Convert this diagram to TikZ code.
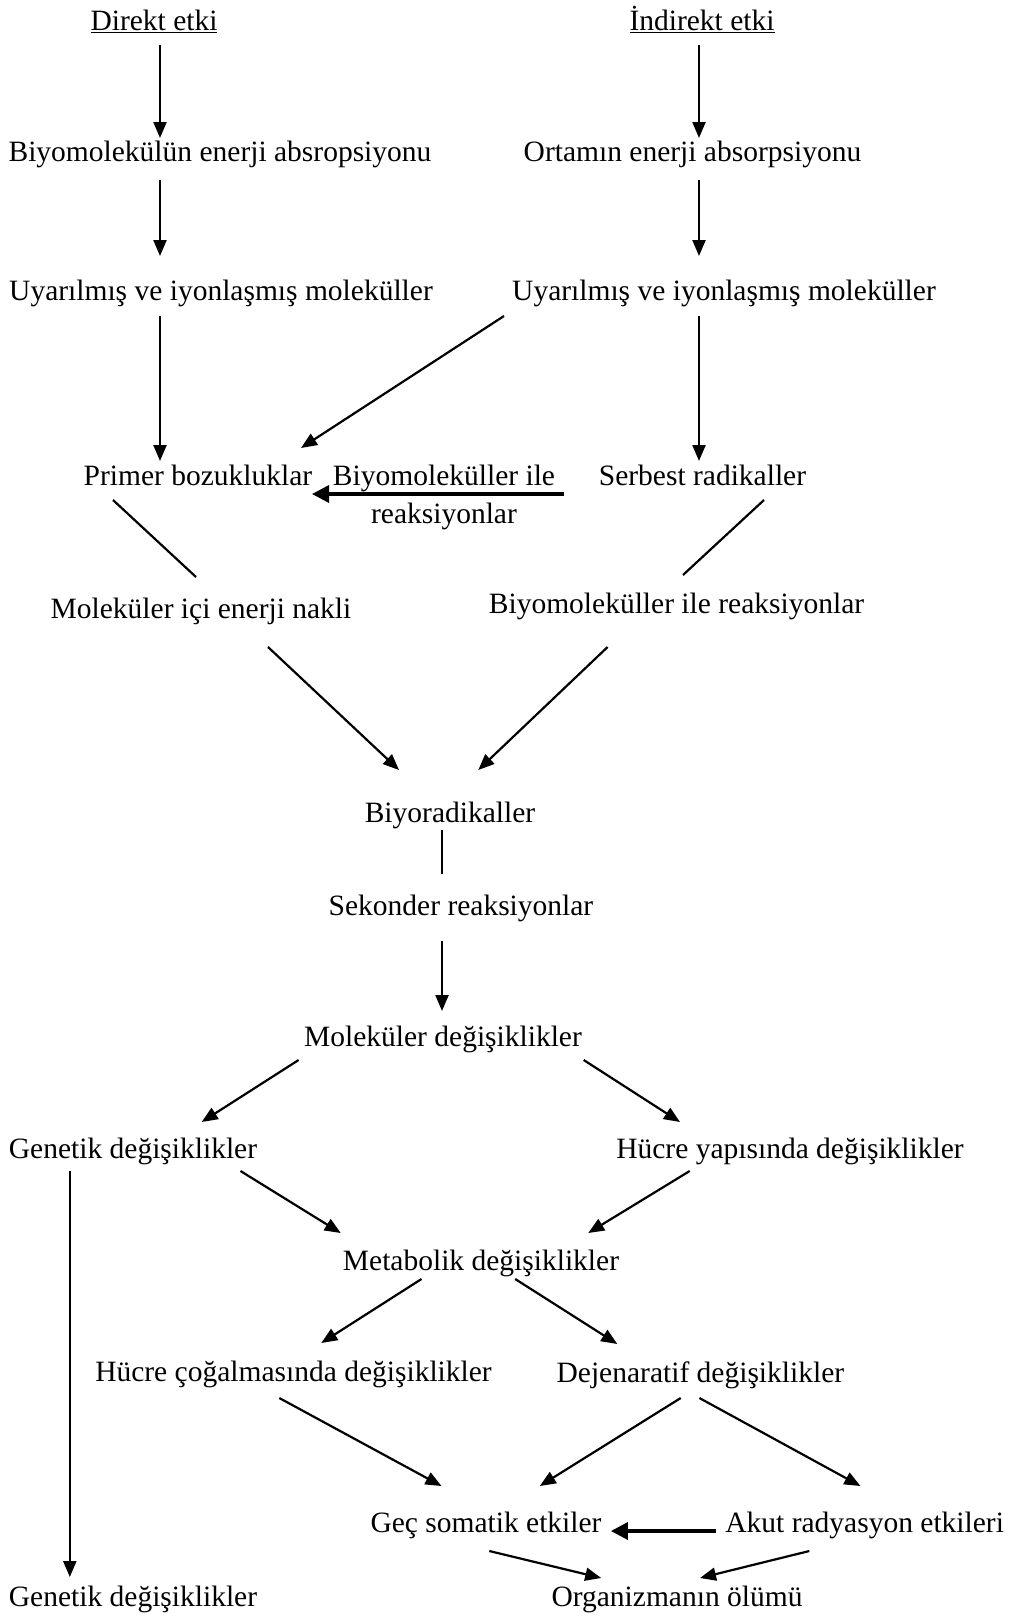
\documentclass[tikz,border=0pt]{standalone}
\usepackage{fontspec}
\setmainfont{Liberation Serif}
\usetikzlibrary{arrows.meta}

\tikzset{
  lbl/.style={anchor=base, inner sep=0pt, font=\fontsize{29.5}{38}\selectfont},
  arr/.style={line width=2.2pt, -{Triangle[length=16pt,width=13pt]}},
  bar/.style={line width=2.2pt},
  heavyarr/.style={line width=3.5pt, -{Triangle[length=17pt,width=17pt]}},
}

\begin{document}
\begin{tikzpicture}[x=1pt,y=-1pt]
\useasboundingbox (0,0) rectangle (1014,1620);

% labels, placed by their (last) baselines
\node[lbl] (direkt)    at (154,30.7)    {\underline{Direkt etki}};
\node[lbl] (indirekt)  at (702,30.7)    {\underline{İndirekt etki}};
\node[lbl] (bioabs)    at (220,161.7)   {Biyomolekülün enerji absropsiyonu};
\node[lbl] (ortam)     at (692.5,161.7) {Ortamın enerji absorpsiyonu};
\node[lbl] (uyarL)     at (221,300)     {Uyarılmış ve iyonlaşmış moleküller};
\node[lbl] (uyarR)     at (724,300)     {Uyarılmış ve iyonlaşmış moleküller};
\node[lbl] (primer)    at (198,485)     {Primer bozukluklar};
\node[lbl, align=center] (bioile) at (444,523) {Biyomoleküller ile\\reaksiyonlar};
\node[lbl] (serbest)   at (702.5,485)   {Serbest radikaller};
\node[lbl] (molici)    at (201,618)     {Moleküler içi enerji nakli};
\node[lbl] (bioreak)   at (676.5,613)   {Biyomoleküller ile reaksiyonlar};
\node[lbl] (biyorad)   at (450,822.7)   {Biyoradikaller};
\node[lbl] (sekonder)  at (461,915)     {Sekonder reaksiyonlar};
\node[lbl] (moldeg)    at (443,1046.7)  {Moleküler değişiklikler};
\node[lbl] (genetik)   at (133,1158)    {Genetik değişiklikler};
\node[lbl] (hucreyap)  at (790,1158)    {Hücre yapısında değişiklikler};
\node[lbl] (metab)     at (481,1270)    {Metabolik değişiklikler};
\node[lbl] (hucrecog)  at (293.5,1381.7){Hücre çoğalmasında değişiklikler};
\node[lbl] (dejen)     at (700.4,1382)  {Dejenaratif değişiklikler};
\node[lbl] (gec)       at (486,1532.7)  {Geç somatik etkiler};
\node[lbl] (akut)      at (864.7,1532.7){Akut radyasyon etkileri};
\node[lbl] (genetikB)  at (133,1606.7)  {Genetik değişiklikler};
\node[lbl] (organizma) at (677,1606.7)  {Organizmanın ölümü};

% direct branch
\draw[arr] ([shift={(6,14.3)}]direkt.base) -- ([shift={(-60,-23.7)}]bioabs.base);
\draw[arr] ([shift={(-60,18.3)}]bioabs.base) -- ([shift={(-61,-44)}]uyarL.base);
\draw[arr] ([shift={(-61,16)}]uyarL.base) -- ([shift={(-38,-24)}]primer.base);

% indirect branch
\draw[arr] ([shift={(-3,14.3)}]indirekt.base) -- ([shift={(6.5,-23.7)}]ortam.base);
\draw[arr] ([shift={(6.5,18.3)}]ortam.base) -- ([shift={(-25,-44)}]uyarR.base);
\draw[arr] ([shift={(-220,16)}]uyarR.base) -- ([shift={(103,-37)}]primer.base);
\draw[arr] ([shift={(-25,16)}]uyarR.base) -- ([shift={(-3.5,-24)}]serbest.base);
\draw[heavyarr] ([shift={(-138.5,9)}]serbest.base) -- ([shift={(114,9)}]primer.base);

% towards the bioradicals
\draw[bar] ([shift={(-85,15)}]primer.base) -- ([shift={(-5,-41)}]molici.base);
\draw[bar] ([shift={(61.5,15)}]serbest.base) -- ([shift={(6.5,-38)}]bioreak.base);
\draw[arr] ([shift={(67,29)}]molici.base) -- ([shift={(-51,-52.7)}]biyorad.base);
\draw[arr] ([shift={(-68.9,34)}]bioreak.base) -- ([shift={(28.3,-52.7)}]biyorad.base);
\draw[bar] ([shift={(-8,7.3)}]biyorad.base) -- ([shift={(-19,-41)}]sekonder.base);
\draw[arr] ([shift={(-19,26)}]sekonder.base) -- ([shift={(-1,-35.7)}]moldeg.base);

% molecular and cellular changes
\draw[arr] ([shift={(-144.4,13.3)}]moldeg.base) -- ([shift={(68.7,-36)}]genetik.base);
\draw[arr] ([shift={(140.7,13.3)}]moldeg.base) -- ([shift={(-110,-36)}]hucreyap.base);
\draw[arr] ([shift={(107.5,13)}]genetik.base) -- ([shift={(-140.3,-37)}]metab.base);
\draw[arr] ([shift={(-100.3,13)}]hucreyap.base) -- ([shift={(107.2,-37)}]metab.base);
\draw[arr] ([shift={(-59.5,9)}]metab.base) -- ([shift={(27.8,-38.7)}]hucrecog.base);
\draw[arr] ([shift={(34.2,9)}]metab.base) -- ([shift={(-83.1,-38)}]dejen.base);
\draw[arr] ([shift={(-63.2,13)}]genetik.base) -- ([shift={(-63.2,-29.7)}]genetikB.base);

% somatic effects and death
\draw[arr] ([shift={(-14.2,16.3)}]hucrecog.base) -- ([shift={(-44.5,-46.7)}]gec.base);
\draw[arr] ([shift={(-19.7,16)}]dejen.base) -- ([shift={(53.8,-46.7)}]gec.base);
\draw[arr] ([shift={(-1,16)}]dejen.base) -- ([shift={(-4.3,-46.7)}]akut.base);
\draw[heavyarr] ([shift={(-148.5,-1.7)}]akut.base) -- ([shift={(124.9,-1.7)}]gec.base);
\draw[arr] ([shift={(3.3,18.3)}]gec.base) -- ([shift={(-75.8,-28.7)}]organizma.base);
\draw[arr] ([shift={(-55.4,18.3)}]akut.base) -- ([shift={(23,-28.7)}]organizma.base);
\end{tikzpicture}
\end{document}
